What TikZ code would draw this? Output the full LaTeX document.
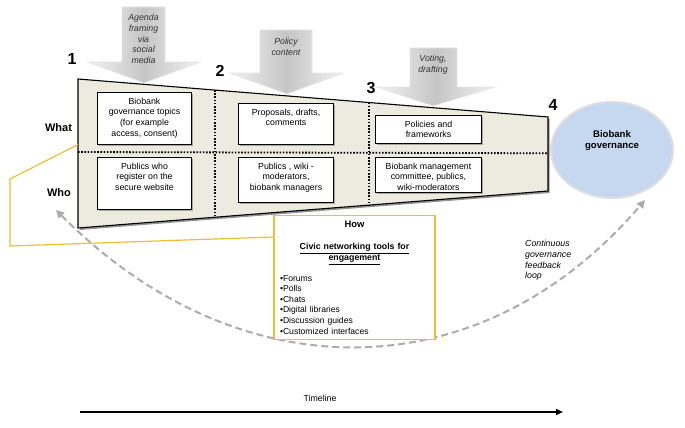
\documentclass[tikz,border=0pt]{standalone}
\usepackage{fontspec}
\setmainfont{Liberation Sans}
\usetikzlibrary{shapes,arrows.meta,positioning,shadows,calc}

\definecolor{funnelbeige}{HTML}{EDEAE0}
\definecolor{govblue}{HTML}{C6D8EF}
\definecolor{howyellow}{HTML}{F0BE32}

\begin{document}
\begin{tikzpicture}[x=1pt, y=-1pt,
    every node/.style={font=\fontsize{8.8}{10.8}\selectfont},
    stagebox/.style={rectangle, draw, line width=1.3pt, fill=white, anchor=north, inner xsep=3pt, inner ysep=5pt,
        drop shadow={shadow xshift=1.5pt, shadow yshift=-1.5pt, opacity=0.5, fill=black!60}},
    stagenum/.style={font=\fontsize{16}{18}\selectfont\bfseries},
    rowlabel/.style={font=\fontsize{11}{13}\selectfont\bfseries},
    inputarrow/.style={left color=gray!10, right color=gray!10, middle color=gray!45, draw=gray!20, line width=0.8pt},
    inputtext/.style={align=center, font=\fontsize{8.8}{10.8}\selectfont\itshape, text=black!80},
    divider/.style={line width=1.8pt, dash pattern=on 1.6pt off 1.6pt},
    feedback/.style={{Triangle[length=8pt, width=8pt]}-{Triangle[length=8pt, width=8pt]}, gray!65, line width=2pt, dash pattern=on 7pt off 4pt}]

    \useasboundingbox (0,0) rectangle (685,428);

    % Inputs coming down into each stage
    \path[inputarrow] (122,7) -- (165,7) -- (165,62) -- (200,62) -- (144,83) -- (88,62) -- (122,62) -- cycle;
    \path[inputarrow] (260,30) -- (312,30) -- (312,73) -- (343,73) -- (287,94) -- (230,73) -- (260,73) -- cycle;
    \path[inputarrow] (410,48) -- (457,48) -- (457,87) -- (495,87) -- (433,106) -- (377,87) -- (410,87) -- cycle;
    \node[inputtext] (agenda) at (143.5,39) {Agenda\\framing\\via\\social\\media};
    \node[inputtext] (policy) at (286,47) {Policy\\content};
    \node[inputtext] (voting) at (433,64.5) {Voting,\\drafting};

    % Funnel of stages
    \coordinate (ftl) at (78,79);
    \coordinate (ftr) at (548,117);
    \coordinate (fbr) at (548,191);
    \coordinate (fbl) at (78,228);
    \draw[line width=1.1pt, fill=funnelbeige, drop shadow={shadow xshift=1.5pt, shadow yshift=-2pt, opacity=0.6, fill=black!70}]
        (ftl) -- (ftr) -- (fbr) -- (fbl) -- cycle;
    \draw[divider] ($(ftl)!0.49!(fbl)$) -- ($(ftr)!0.49!(fbr)$);
    \draw[divider] ($(ftl)!0.2915!(ftr)$) -- ($(fbl)!0.2915!(fbr)$);
    \draw[divider] ($(ftl)!0.619!(ftr)$) -- ($(fbl)!0.619!(fbr)$);

    % Stage numbers and rows
    \node[stagenum] (n1) at (72,59) {1};
    \node[stagenum] (n2) at (220,71) {2};
    \node[stagenum] (n3) at (371,88) {3};
    \node[stagenum] (n4) at (553,105) {4};
    \node[rowlabel] (what) at (58.5,128) {What};
    \node[rowlabel] (who) at (59,193) {Who};

    % What / who of each stage
    \node[stagebox] (topics) at (144.5,92) {\parbox[c][41.7pt][t]{88pt}{\centering Biobank\\governance topics\\(for example\\access, consent)}};
    \node[stagebox] (register) at (144.5,157) {\parbox[c][41.7pt][t]{88pt}{\centering Publics who\\register on the\\secure website}};
    \node[stagebox] (proposals) at (286,103) {\parbox[c][30.7pt][t]{89pt}{\centering Proposals, drafts,\\comments}};
    \node[stagebox] (wikipub) at (286,157) {\parbox[c][34.7pt][t]{89pt}{\centering Publics , wiki -\\moderators,\\biobank managers}};
    \node[stagebox] (policies) at (428.5,115) {\parbox[c][17.7pt][t]{100pt}{\centering Policies and\\frameworks}};
    \node[stagebox] (committee) at (428.5,157) {\parbox[c][24.7pt][t]{100pt}{\centering Biobank management\\committee, publics,\\wiki-moderators}};

    % Outcome
    \node[ellipse, draw=gray!25, line width=2pt, fill=govblue, minimum width=122pt, minimum height=96pt,
        label={[font=\fontsize{9.6}{11.5}\selectfont\bfseries, align=center, yshift=9.5pt]center:Biobank\\governance}] (gov) at (612,150) {};

    % Feedback loop
    \coordinate (loopa) at (56,210);
    \coordinate (loopb) at (645,200);
    \draw[feedback] (loopa) .. controls (238,393) and (480,393) .. (loopb);
    \node[anchor=north west, align=left, font=\fontsize{8.8}{10.8}\selectfont\itshape, inner sep=2pt] (loopnote) at (523,238)
        {Continuous\\governance\\feedback\\loop};

    % How box
    \node[rectangle, draw=howyellow, line width=1.4pt, fill=white, anchor=north, text width=149pt, inner xsep=6pt, inner ysep=5pt] (how) at (354.5,215)
        {\vspace*{1.5pt}{\centering\fontsize{9.4}{10.8}\selectfont\textbf{How}\par}\vspace{10.5pt}
        {\centering\textbf{\underline{Civic networking tools for}}\\\textbf{\underline{engagement}}\par}\vspace{9.8pt}
        \fontsize{8.6}{10.6}\selectfont\raggedright
        \textbullet Forums\\\textbullet Polls\\\textbullet Chats\\\textbullet Digital libraries\\\textbullet Discussion guides\\\textbullet Customized interfaces\par};
    \coordinate (whatlink) at ($(ftl)!0.44!(fbl)$);
    \draw[howyellow, line width=1.2pt] (whatlink) -- (10,179) -- (10,246) -- ($(how.north west)+(0,22)$);

    % Timeline
    \coordinate (tl0) at (80,412);
    \coordinate (tl1) at (563,412);
    \draw[-{Triangle[length=7pt, width=6pt]}, line width=2pt] (tl0) -- (tl1);
    \node (timeline) at (320,398) {Timeline};
\end{tikzpicture}
\end{document}
